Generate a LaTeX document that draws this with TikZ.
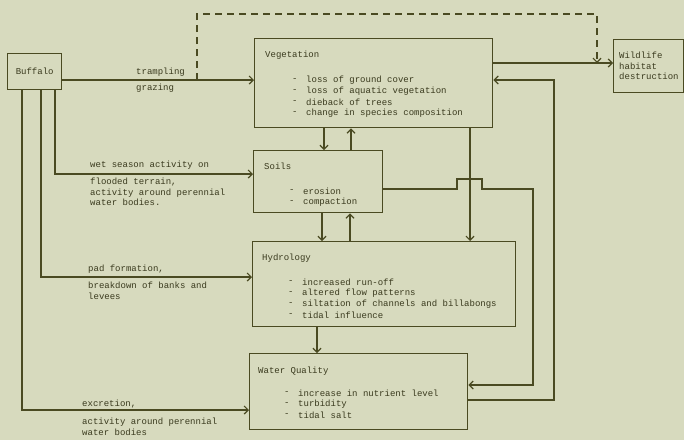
\documentclass[tikz,border=0pt]{standalone}
\usepackage{fontspec}
\setmonofont{Liberation Mono}
\usetikzlibrary{arrows.meta}
\definecolor{bg}{HTML}{D7DABE}
\definecolor{ink}{HTML}{4A4A22}
\definecolor{txt}{HTML}{3A3A1E}
\begin{document}
\begin{tikzpicture}[x=1pt,y=-1pt,
  box/.style={draw=ink,line width=1.4pt,inner sep=0pt,anchor=north west},
  tx/.style={inner sep=0pt,anchor=west,text=txt,font=\ttfamily\fontsize{9}{10.5}\selectfont},
  mtx/.style={inner sep=0pt,anchor=north west,align=left,text=txt,font=\ttfamily\fontsize{9}{10.5}\selectfont},
  conn/.style={draw=ink,line width=1.2pt},
  arr/.style={conn,-{Straight Barb[length=4pt,width=8pt,line width=1.2pt]}},
  dsh/.style={arr,dash pattern=on 7pt off 5pt}]
\fill[bg] (0,0) rectangle (684,440);
\useasboundingbox (0,0) rectangle (684,440);

% boxes
\node[box,minimum width=54pt,minimum height=36pt] (buf) at (7,53) {};
\node[box,minimum width=238pt,minimum height=89pt] (veg) at (254,38) {};
\node[box,minimum width=70pt,minimum height=53pt] (wild) at (613,39) {};
\node[box,minimum width=129pt,minimum height=62pt] (soil) at (253,150) {};
\node[box,minimum width=263pt,minimum height=85pt] (hyd) at (252,241) {};
\node[box,minimum width=218pt,minimum height=76pt] (wq) at (249,353) {};

% box texts
\node[tx,anchor=center] (tbuf) at (buf.center) {Buffalo};
\node[mtx] (twild) at (619,52) {Wildlife\\habitat\\destruction};

\node[tx] (tveg) at (265,55) {Vegetation};
\node[tx] (vb1) at (292,80) {-};
\node[tx] (vb2) at (292,91) {-};
\node[tx] (vb3) at (292,102) {-};
\node[tx] (vb4) at (292,113) {-};
\node[tx] (v1) at (306,80) {loss of ground cover};
\node[tx] (v2) at (306,91) {loss of aquatic vegetation};
\node[tx] (v3) at (306,102) {dieback of trees};
\node[tx] (v4) at (306,113) {change in species composition};

\node[tx] (tsoil) at (264,166) {Soils};
\node[tx] (sb1) at (289,191) {-};
\node[tx] (sb2) at (289,202) {-};
\node[tx] (s1) at (303,191) {erosion};
\node[tx] (s2) at (303,202) {compaction};

\node[tx] (thyd) at (262,258) {Hydrology};
\node[tx] (hb1) at (288,282) {-};
\node[tx] (hb2) at (288,293) {-};
\node[tx] (hb3) at (288,304) {-};
\node[tx] (hb4) at (288,315) {-};
\node[tx] (h1) at (302,282) {increased run-off};
\node[tx] (h2) at (302,293) {altered flow patterns};
\node[tx] (h3) at (302,304) {siltation of channels and billabongs};
\node[tx] (h4) at (302,315) {tidal influence};

\node[tx] (twq) at (258,371) {Water Quality};
\node[tx] (wb1) at (284,393) {-};
\node[tx] (wb2) at (284,404) {-};
\node[tx] (wb3) at (284,415) {-};
\node[tx] (w1) at (298,393) {increase in nutrient level};
\node[tx] (w2) at (298,404) {turbidity};
\node[tx] (w3) at (298,415) {tidal salt};

% connector labels
\node[tx] (ltr) at (136,72) {trampling};
\node[tx] (lgr) at (136,88) {grazing};
\node[tx] (lwet) at (90,165) {wet season activity on};
\node[mtx] (lflood) at (90,178) {flooded terrain,\\activity around perennial\\water bodies.};
\node[tx] (lpad) at (88,269) {pad formation,};
\node[mtx] (lbreak) at (88,282) {breakdown of banks and\\levees};
\node[tx] (lexc) at (82,404) {excretion,};
\node[mtx] (lact) at (82,418) {activity around perennial\\water bodies};

% connectors
\coordinate (d0) at (197,80);
\coordinate (d1) at (597,63);
\draw[arr] (buf.east |- 0,80) -- (veg.west |- 0,80);
\draw[dsh] (d0) -- (197,14) -- (597,14) -- (d1);
\draw[arr] (veg.east |- 0,63) -- (wild.west |- 0,63);
\draw[arr] (wq.east |- 0,400) -- (554,400) -- (554,80) -- (veg.east |- 0,80);
\draw[arr] (soil.east |- 0,189) -- (457,189) -- (457,179) -- (482,179) -- (482,189) -- (533,189) -- (533,385) -- (wq.east |- 0,385);
\draw[arr] (veg.south -| 470,0) -- (hyd.north -| 470,0);
\draw[arr] (veg.south -| 324,0) -- (soil.north -| 324,0);
\draw[arr] (soil.north -| 351,0) -- (veg.south -| 351,0);
\draw[arr] (soil.south -| 322,0) -- (hyd.north -| 322,0);
\draw[arr] (hyd.north -| 350,0) -- (soil.south -| 350,0);
\draw[arr] (hyd.south -| 317,0) -- (wq.north -| 317,0);
\draw[arr] (buf.south -| 55,0) -- (55,174) -- (soil.west |- 0,174);
\draw[arr] (buf.south -| 41,0) -- (41,277) -- (hyd.west |- 0,277);
\draw[arr] (buf.south -| 22,0) -- (22,410) -- (wq.west |- 0,410);
\end{tikzpicture}
\end{document}
